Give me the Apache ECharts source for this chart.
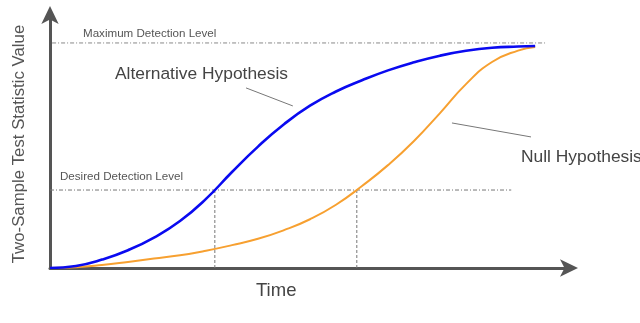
<!DOCTYPE html>
<html><head><meta charset="utf-8">
<script src="https://cdn.jsdelivr.net/npm/echarts@6/dist/echarts.min.js"></script>
<style>html,body{margin:0;padding:0;background:#fff}#c{width:640px;height:323px}</style>
</head><body><div id="c"></div>
<script>
// Time (0-100) and statistic value (0-100)
const timeSteps = [0, 5, 10, 15, 20, 25, 30, 35, 40, 45, 50, 55, 60, 65, 70, 75, 80, 85, 90, 93.3];
const altValue  = [0, 0.8, 3.3, 7.0, 12.0, 18.5, 27.2, 37.8, 47.8, 56.6, 63.9, 69.5, 73.9, 77.8, 81.0, 83.6, 85.5, 86.7, 87.2, 87.4];
const nullValue = [0, 0.3, 1.2, 2.4, 3.7, 5.0, 6.8, 9.0, 11.5, 14.9, 19.2, 24.9, 32.3, 40.5, 50.0, 61.0, 72.4, 81.1, 85.6, 87.0];
const maxLevel = 88.6, maxLevelEnd = 95.2;
const desiredLevel = 30.7, desiredLevelEnd = 88.7;
const altCross = 31.7, nullCross = 59.0;
const altPointer = [[37.7, 70.9], [46.7, 63.8]];
const nullPointer = [[77.3, 57.1], [92.5, 51.6]];

const zip = (a, b) => a.map((v, i) => [v, b[i]]);
const chart = echarts.init(document.getElementById('c'));
const font = 'Liberation Sans, Arial, sans-serif';
const axisLine = {show: true, symbol: ['none', 'arrow'], symbolSize: [13, 18], symbolOffset: [0, 8],
  lineStyle: {color: '#555', width: 3}};
chart.setOption({
  animation: false,
  grid: {left: 50, top: 14, width: 520, height: 254},
  xAxis: {type: 'value', min: 0, max: 100, splitLine: {show: false}, axisTick: {show: false}, axisLabel: {show: false}, axisLine: axisLine},
  yAxis: {type: 'value', min: 0, max: 100, splitLine: {show: false}, axisTick: {show: false}, axisLabel: {show: false}, axisLine: axisLine},
  series: [
    {type: 'line', data: [[0.4, maxLevel], [maxLevelEnd, maxLevel]], symbol: 'none', silent: true,
      lineStyle: {color: '#888', width: 1, type: [4, 2, 1, 2]}},
    {type: 'line', data: [[0, desiredLevel], [desiredLevelEnd, desiredLevel]], symbol: 'none', silent: true,
      lineStyle: {color: '#777', width: 1, type: [4, 2, 1, 2]}},
    {type: 'line', data: [[altCross, 0], [altCross, desiredLevel]], symbol: 'none', silent: true,
      lineStyle: {color: '#777', width: 1, type: [3, 2]}},
    {type: 'line', data: [[nullCross, 0], [nullCross, desiredLevel]], symbol: 'none', silent: true,
      lineStyle: {color: '#777', width: 1, type: [3, 2]}},
    {type: 'line', data: altPointer, symbol: 'none', silent: true, lineStyle: {color: '#777', width: 1}},
    {type: 'line', data: nullPointer, symbol: 'none', silent: true, lineStyle: {color: '#777', width: 1}},
    {name: 'Null Hypothesis', type: 'line', data: zip(timeSteps, nullValue), smooth: 0.5, symbol: 'none',
      lineStyle: {color: '#f7a030', width: 2}},
    {name: 'Alternative Hypothesis', type: 'line', data: zip(timeSteps, altValue), smooth: 0.5, symbol: 'none',
      lineStyle: {color: '#0a0af0', width: 2.6}}
  ],
  graphic: [
    {type: 'text', left: 83, top: 28, style: {text: 'Maximum Detection Level', font: '11.6px ' + font, fill: '#555'}},
    {type: 'text', left: 60, top: 171, style: {text: 'Desired Detection Level', font: '11.6px ' + font, fill: '#555'}},
    {type: 'text', left: 115, top: 66, style: {text: 'Alternative Hypothesis', font: '17.4px ' + font, fill: '#444'}},
    {type: 'text', left: 521, top: 149, style: {text: 'Null Hypothesis', font: '17.4px ' + font, fill: '#444'}},
    {type: 'text', left: 256, top: 281, style: {text: 'Time', font: '18.5px ' + font, fill: '#444'}},
    {type: 'text', x: 19, y: 144, rotation: Math.PI / 2,
      style: {text: 'Two-Sample Test Statistic Value', font: '16.8px ' + font, fill: '#555', align: 'center', verticalAlign: 'middle'}}
  ]
});
</script></body></html>
